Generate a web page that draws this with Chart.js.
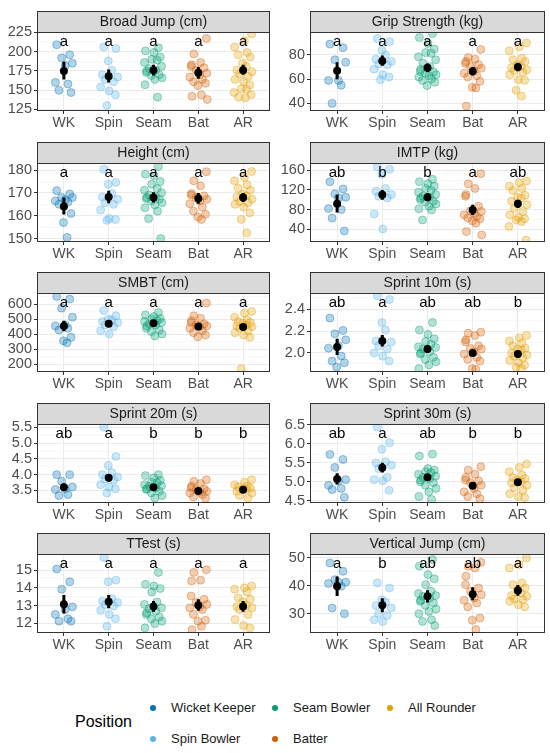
<!DOCTYPE html>
<html>
<head>
<meta charset="utf-8">
<script src="https://cdn.jsdelivr.net/npm/chart.js@4.4.1/dist/chart.umd.min.js"></script>
<style>
body{margin:0;background:#fff;font-family:"Liberation Sans",Arial,sans-serif;}
#wrap{position:relative;width:550px;height:753px;overflow:hidden;background:#fff;}
.panel{position:absolute;}
.legend-title{position:absolute;left:75px;top:713px;font-size:16px;color:#000;}
.legend-item{position:absolute;font-size:13px;color:#1a1a1a;line-height:16px;white-space:nowrap;}
.legend-item i{position:absolute;left:-21px;top:5px;width:6px;height:6px;border-radius:50%;}
</style>
</head>
<body>
<div id="wrap"></div>
<script>
var POSITIONS = ['WK', 'Spin', 'Seam', 'Bat', 'AR'];
var POSITION_NAMES = ['Wicket Keeper', 'Spin Bowler', 'Seam Bowler', 'Batter', 'All Rounder'];
var COLORS = ['#0072B2', '#56B4E9', '#009E73', '#D55E00', '#E69F00'];

// horizontal jitter of the raw points (category units)
var JITTER = [-0.16, 0.13, -0.05, 0.19, 0.03, -0.19, 0.09, -0.11, 0.16, -0.01, 0.07, -0.14, 0.2,
              -0.08, 0.11, -0.18, 0.01, 0.15, -0.04, 0.08, -0.2, 0.18, -0.1, 0.05, -0.15];

// ---- data: one list per position (WK, Spin, Seam, Bat, AR) ----
var broadJump = [
  [209,196,192,185,182,160,158,150,147],
  [206,204,188,176,170,167,164,161,154,149,144,130],
  [205,201,199,193,190,189,186,181,178,176,175,173,170,169,166,164,157,141],
  [217,197,186,183,181,179,176,172,170,167,164,161,159,156,144,142,138],
  [223,214,206,199,196,193,185,181,176,174,171,168,164,161,157,152,151,147,144,141,140]
];
var broadJumpMean = [175,168,176,172.5,176];
var broadJumpLo = [164,160,169,165,170];
var broadJumpHi = [187,177,183,180,183];
var broadJumpLetters = ['a','a','a','a','a'];

var gripStrength = [
  [89,86,76,74,59,59,55,40],
  [93.6,91,84,80,76.5,74.6,72.6,72,68.3,63.7,61.8,59.6],
  [97.7,94.4,89.5,84.9,82,81.4,78.6,76,73.2,70.5,68.3,66.4,66,65,63.7,63,61.8,60.4,59,57.4,54.7],
  [84.6,78,76.5,74.6,73,72,70.5,69,67,65,62.9,61.8,58.2,53.3,52.8,37.8],
  [90,86.8,83.5,77.3,76,74.6,72,70.5,69.4,67.8,67,65.6,63.7,59.6,59,50.9,46]
];
var gripStrengthMean = [67,75,69.5,66.5,70];
var gripStrengthLo = [60,71,66,63,66.5];
var gripStrengthHi = [74,79.5,73,70,73.5];
var gripStrengthLetters = ['a','a','a','a','a'];

var height = [
  [171,169.5,168,168,167,166.5,166,165,161,157,150.5],
  [180.4,174.6,173.8,169.7,168.2,167.2,165.7,165,162.5,158.8,158.4,158],
  [181.6,178.2,177.5,175,173.8,171.9,171.2,170.1,169.1,168.2,168,167.5,167.2,166.5,165.7,164.7,163.5,162,158.8,150],
  [179.3,175.3,173.1,169.7,169.1,168.7,167.9,167.2,166.5,165.3,163.8,162,160.6,159.4,158.4],
  [179.4,176.8,175.3,173.5,172,171.2,169.4,168.7,168.2,167.2,166.2,165.7,165,163.8,161.3,158.4,152.5]
];
var heightMean = [164,168.2,168,167.5,168];
var heightLo = [160.5,165.5,165.8,165.3,166];
var heightHi = [168,171,170.3,170,170];
var heightLetters = ['a','a','a','a','a'];

var imtp = [
  [136.7,122,112,105,103.7,82,80,62.6,36.6],
  [166.9,162,151.8,123,117.5,110.6,107,103.7,71,40.7],
  [141.5,136.7,132.6,127.8,123,119,115.4,110.6,107.2,105,103.7,100.3,97,95.5,91.4,86.6,81.8,79,59],
  [153,132.6,123,110.6,107.2,86.6,77.6,76.3,72.9,69.4,66,62.6,61.2,57.1,52.3,35.2,28.3],
  [138,134.6,127.8,123,119,109,105,103.7,97,90,82,76.3,69.4,64,61.2,59,55.7,45.4,18]
];
var imtpMean = [92,110,105,79,92];
var imtpLo = [74,100,97,69,83];
var imtpHi = [110,120,113,90,100];
var imtpLetters = ['ab','b','b','a','ab'];

var smbt = [
  [651,633,573,513,461,455,439,428,379,356,343],
  [557,522,500,495,484,477,461,450,423,401],
  [544,528,517,504,500,490,484,477,468,461,455,439,428,417,401,388],
  [607,522,506,490,477,468,461,455,450,439,423,410,394,383],
  [551,540,513,495,484,477,473,461,455,450,439,423,410,394,379,171]
];
var smbtMean = [455,470,472,451,447];
var smbtLo = [420,450,455,433,430];
var smbtHi = [490,490,490,468,465];
var smbtLetters = ['a','a','a','a','a'];

var sprint10 = [
  [2.32,2.206,2.175,2.12,2.066,2.044,1.972,1.925,1.91,1.87],
  [2.525,2.49,2.28,2.21,2.11,2.10,2.066,2.035,2.0,1.97,1.925],
  [2.28,2.21,2.17,2.13,2.106,2.08,2.056,2.05,2.035,2.01,2.0,1.99,1.96,1.94,1.92,1.89,1.856],
  [2.19,2.18,2.16,2.12,2.1,2.066,2.04,2.035,2.01,1.99,1.96,1.94,1.925,1.856,1.85],
  [2.16,2.14,2.11,2.09,2.066,2.044,2.035,2.025,2.0,1.98,1.97,1.956,1.93,1.91,1.89,1.87,1.856]
];
var sprint10Mean = [2.055,2.11,2.035,2.0,1.99];
var sprint10Lo = [1.98,2.06,2.0,1.965,1.955];
var sprint10Hi = [2.13,2.165,2.07,2.035,2.025];
var sprint10Letters = ['ab','a','ab','ab','b'];

var sprint20 = [
  [4.0,4.0,3.79,3.61,3.55,3.53,3.37,3.335],
  [5.51,4.58,4.29,4.07,4.0,3.93,3.86,3.82,3.68,3.61,3.55,3.42],
  [4.0,3.97,3.9,3.82,3.76,3.74,3.68,3.65,3.63,3.58,3.55,3.53,3.47,3.42,3.335,3.26],
  [3.84,3.79,3.72,3.63,3.58,3.55,3.53,3.47,3.44,3.42,3.37,3.29,3.25],
  [3.84,3.76,3.68,3.63,3.61,3.58,3.55,3.53,3.47,3.42,3.335,3.26]
];
var sprint20Mean = [3.6,3.9,3.6,3.48,3.52];
var sprint20Lo = [3.48,3.78,3.53,3.41,3.46];
var sprint20Hi = [3.72,4.02,3.67,3.55,3.58];
var sprint20Letters = ['ab','a','b','b','b'];

var sprint30 = [
  [5.72,5.59,5.38,5.06,5.03,4.91,4.83,4.8,4.6],
  [6.44,6.03,5.86,5.53,5.5,5.44,5.35,5.12,5.06,5.03,4.78],
  [5.73,5.68,5.35,5.31,5.27,5.24,5.2,5.15,5.12,5.09,5.05,5.0,4.98,4.91,4.83,4.74,4.62,4.54],
  [5.4,5.31,5.2,5.12,5.05,5.03,4.98,4.91,4.83,4.74,4.69,4.62,4.56],
  [5.47,5.38,5.27,5.18,5.12,5.09,5.05,5.0,4.98,4.91,4.85,4.78,4.69,4.62,4.59]
];
var sprint30Mean = [5.08,5.37,5.12,4.9,4.99];
var sprint30Lo = [4.93,5.25,5.03,4.82,4.92];
var sprint30Hi = [5.23,5.5,5.21,4.98,5.07];
var sprint30Letters = ['ab','a','ab','b','b'];

var tTest = [
  [15.06,14.34,13.92,12.93,12.78,12.5,12.25,12.12,12.12],
  [15.72,14.43,14.34,13.39,13.25,13.17,13.06,12.98,12.74,12.5,12.25,11.83],
  [14.87,14.2,14.1,13.96,13.77,13.2,13.06,12.87,12.82,12.69,12.59,12.5,12.36,12.25,12.12,11.98,11.74],
  [15.02,14.87,14.43,14.39,13.54,13.35,13.17,13.06,12.93,12.87,12.78,12.5,12.17,12.12,11.83,11.64],
  [14.1,14.0,13.92,13.77,13.44,13.35,13.2,13.0,12.93,12.87,12.78,12.5,12.21,11.87,11.74]
];
var tTestMean = [13.08,13.22,12.95,13.02,12.95];
var tTestLo = [12.55,12.85,12.65,12.7,12.65];
var tTestHi = [13.6,13.6,13.25,13.35,13.25];
var tTestLetters = ['a','a','a','a','a'];

var verticalJump = [
  [48.2,45.2,42.2,41.3,41.3,40.8,39.8,32,30],
  [41,39.2,35,34.1,32.9,32,30,29.3,27.8,27.2],
  [49.4,47,44,42.5,40.4,38,37.2,36.5,36.2,35.6,34.8,34.4,33.8,32.9,31.7,30.8,30,27.8,27.2,25.7],
  [48.4,47,46.4,43.4,40.4,39.2,38,36.8,35.6,34.8,33.8,32.4,28.4,27.6,24.3],
  [50,47.6,46.4,41,40.4,39.2,38.4,37.4,36.5,36.2,35.3,35,34.4,33.2,32.4]
];
var verticalJumpMean = [39.8,33,36.2,37,38.3];
var verticalJumpLo = [36.3,30.5,34,34.8,36.4];
var verticalJumpHi = [43.3,35.5,38.4,39.5,40.3];
var verticalJumpLetters = ['a','b','ab','ab','a'];

var PANELS = [
  {title:'Broad Jump (cm)', values:broadJump, mean:broadJumpMean, lo:broadJumpLo, hi:broadJumpHi, letters:broadJumpLetters, min:123, max:225.5, major:25, minor:12.5, dec:0},
  {title:'Grip Strength (kg)', values:gripStrength, mean:gripStrengthMean, lo:gripStrengthLo, hi:gripStrengthHi, letters:gripStrengthLetters, min:33.7, max:99, major:20, minor:10, dec:0},
  {title:'Height (cm)', values:height, mean:heightMean, lo:heightLo, hi:heightHi, letters:heightLetters, min:148.5, max:183.1, major:10, minor:5, dec:0},
  {title:'IMTP (kg)', values:imtp, mean:imtpMean, lo:imtpLo, hi:imtpHi, letters:imtpLetters, min:14, max:174.8, major:40, minor:20, dec:0},
  {title:'SMBT (cm)', values:smbt, mean:smbtMean, lo:smbtLo, hi:smbtHi, letters:smbtLetters, min:148.6, max:673.7, major:100, minor:50, dec:0},
  {title:'Sprint 10m (s)', values:sprint10, mean:sprint10Mean, lo:sprint10Lo, hi:sprint10Hi, letters:sprint10Letters, min:1.825, max:2.55, major:0.2, minor:0.1, dec:1},
  {title:'Sprint 20m (s)', values:sprint20, mean:sprint20Mean, lo:sprint20Lo, hi:sprint20Hi, letters:sprint20Letters, min:3.1, max:5.61, major:0.5, minor:0.25, dec:1},
  {title:'Sprint 30m (s)', values:sprint30, mean:sprint30Mean, lo:sprint30Lo, hi:sprint30Hi, letters:sprint30Letters, min:4.447, max:6.52, major:0.5, minor:0.25, dec:1},
  {title:'TTest (s)', values:tTest, mean:tTestMean, lo:tTestLo, hi:tTestHi, letters:tTestLetters, min:11.45, max:15.91, major:1, minor:0.5, dec:0},
  {title:'Vertical Jump (cm)', values:verticalJump, mean:verticalJumpMean, lo:verticalJumpLo, hi:verticalJumpHi, letters:verticalJumpLetters, min:23.05, max:51.4, major:10, minor:5, dec:0}
];

var FONT = '"Liberation Sans", Arial, sans-serif';
var PLOT_TOPS = [32, 163, 293, 424, 554];
var STRIP_H = 21, PLOT_H = 79, XAXIS_H = 24;

function rgba(hex, a){
  var n = parseInt(hex.slice(1), 16);
  return 'rgba(' + (n >> 16) + ',' + ((n >> 8) & 255) + ',' + (n & 255) + ',' + a + ')';
}
function isMajor(v, major){
  var r = v / major;
  return Math.abs(r - Math.round(r)) < 1e-6;
}

var facetPlugin = {
  id: 'facet',
  beforeDraw: function(chart, args, opts){
    var ctx = chart.ctx, a = chart.chartArea;
    ctx.save();
    ctx.fillStyle = '#D9D9D9';
    ctx.fillRect(a.left, a.top - STRIP_H, a.width, STRIP_H);
    ctx.strokeStyle = '#333';
    ctx.lineWidth = 1;
    ctx.strokeRect(a.left + 0.5, a.top - STRIP_H + 0.5, a.width - 1, STRIP_H);
    ctx.fillStyle = '#1A1A1A';
    ctx.font = '14px ' + FONT;
    ctx.textAlign = 'center';
    ctx.textBaseline = 'middle';
    ctx.fillText(opts.title, (a.left + a.right) / 2, a.top - STRIP_H / 2 + 1);
    ctx.restore();
  },
  afterDatasetsDraw: function(chart, args, opts){
    var ctx = chart.ctx, a = chart.chartArea, xs = chart.scales.x;
    ctx.save();
    ctx.fillStyle = '#000';
    ctx.font = '15px ' + FONT;
    ctx.textAlign = 'center';
    ctx.textBaseline = 'alphabetic';
    opts.letters.forEach(function(l, i){
      ctx.fillText(l, xs.getPixelForValue(i), a.top + 13.5);
    });
    ctx.strokeStyle = '#333';
    ctx.lineWidth = 1;
    ctx.strokeRect(a.left + 0.5, a.top + 0.5, a.width - 1, a.height - 1);
    ctx.restore();
  }
};

var wrap = document.getElementById('wrap');

PANELS.forEach(function(p, n){
  var col = n % 2, row = Math.floor(n / 2);
  var div = document.createElement('div');
  div.className = 'panel';
  div.style.left = (col * 275) + 'px';
  div.style.top = (PLOT_TOPS[row] - STRIP_H) + 'px';
  var cv = document.createElement('canvas');
  cv.width = 275;
  cv.height = STRIP_H + PLOT_H + XAXIS_H;
  cv.style.width = '275px';
  cv.style.height = cv.height + 'px';
  div.appendChild(cv);
  wrap.appendChild(div);

  var datasets = [];
  // error bars and means first: dataset 0 is drawn on top
  var errData = [];
  p.mean.forEach(function(m, i){
    errData.push({x:i, y:p.lo[i]}, {x:i, y:p.hi[i]}, {x:i, y:null});
  });
  datasets.push({type:'line', data:errData, borderColor:'#000', borderWidth:3,
    pointRadius:0, spanGaps:false, tension:0, borderCapStyle:'butt'});
  datasets.push({type:'scatter', data:p.mean.map(function(m, i){ return {x:i, y:m}; }),
    pointRadius:4, backgroundColor:'#000', borderColor:'#000', borderWidth:0});
  p.values.forEach(function(vals, i){
    datasets.push({
      type:'scatter',
      data: vals.map(function(v, k){ return {x: i + JITTER[(k + 7 * i) % JITTER.length], y: v}; }),
      pointRadius:4,
      backgroundColor: rgba(COLORS[i], 0.3),
      borderColor: rgba(COLORS[i], 0.38),
      borderWidth:1
    });
  });

  new Chart(cv, {
    type:'scatter',
    data:{datasets:datasets},
    options:{
      responsive:false,
      animation:false,
      events:[],
      layout:{padding:{top:STRIP_H, left:0, right: col ? 5 : 4, bottom:0}},
      plugins:{
        legend:{display:false},
        tooltip:{enabled:false},
        facet:{title:p.title, letters:p.letters}
      },
      scales:{
        x:{
          type:'linear', min:-0.6, max:4.6,
          afterFit:function(s){ s.height = XAXIS_H; },
          ticks:{stepSize:1, includeBounds:false, autoSkip:false, maxRotation:0, padding:1,
            color:'#4D4D4D', font:{size:14, family:FONT},
            callback:function(v){ return POSITIONS[Math.round(v)] || ''; }},
          grid:{color:'#EBEBEB', lineWidth:1, tickLength:3, tickColor:'#333'},
          border:{display:false}
        },
        y:{
          min:p.min, max:p.max,
          afterFit:function(s){ s.width = col ? 35 : 37; },
          ticks:{stepSize:p.minor, includeBounds:false, autoSkip:false, maxTicksLimit:60, padding:2,
            color:'#4D4D4D', font:{size:14.5, family:FONT},
            callback:function(v){ return isMajor(v, p.major) ? v.toFixed(p.dec) : ''; }},
          grid:{
            color:function(c){ return c.tick && isMajor(c.tick.value, p.major) ? '#EBEBEB' : '#F3F3F3'; },
            lineWidth:function(c){ return c.tick && isMajor(c.tick.value, p.major) ? 1 : 0.6; },
            tickLength:3,
            tickColor:function(c){ return c.tick && isMajor(c.tick.value, p.major) ? '#333' : 'rgba(0,0,0,0)'; }
          },
          border:{display:false}
        }
      }
    },
    plugins:[facetPlugin]
  });
});

// legend
var LEGEND_DOTS = [[153,708],[153,739],[275,708],[275,739],[390,708]];
var title = document.createElement('div');
title.className = 'legend-title';
title.textContent = 'Position';
wrap.appendChild(title);
POSITION_NAMES.forEach(function(name, i){
  var it = document.createElement('div');
  it.className = 'legend-item';
  it.style.left = (LEGEND_DOTS[i][0] + 18) + 'px';
  it.style.top = (LEGEND_DOTS[i][1] - 8) + 'px';
  it.innerHTML = '<i style="background:' + COLORS[i] + '"></i>';
  it.appendChild(document.createTextNode(name));
  wrap.appendChild(it);
});
</script>
</body>
</html>
